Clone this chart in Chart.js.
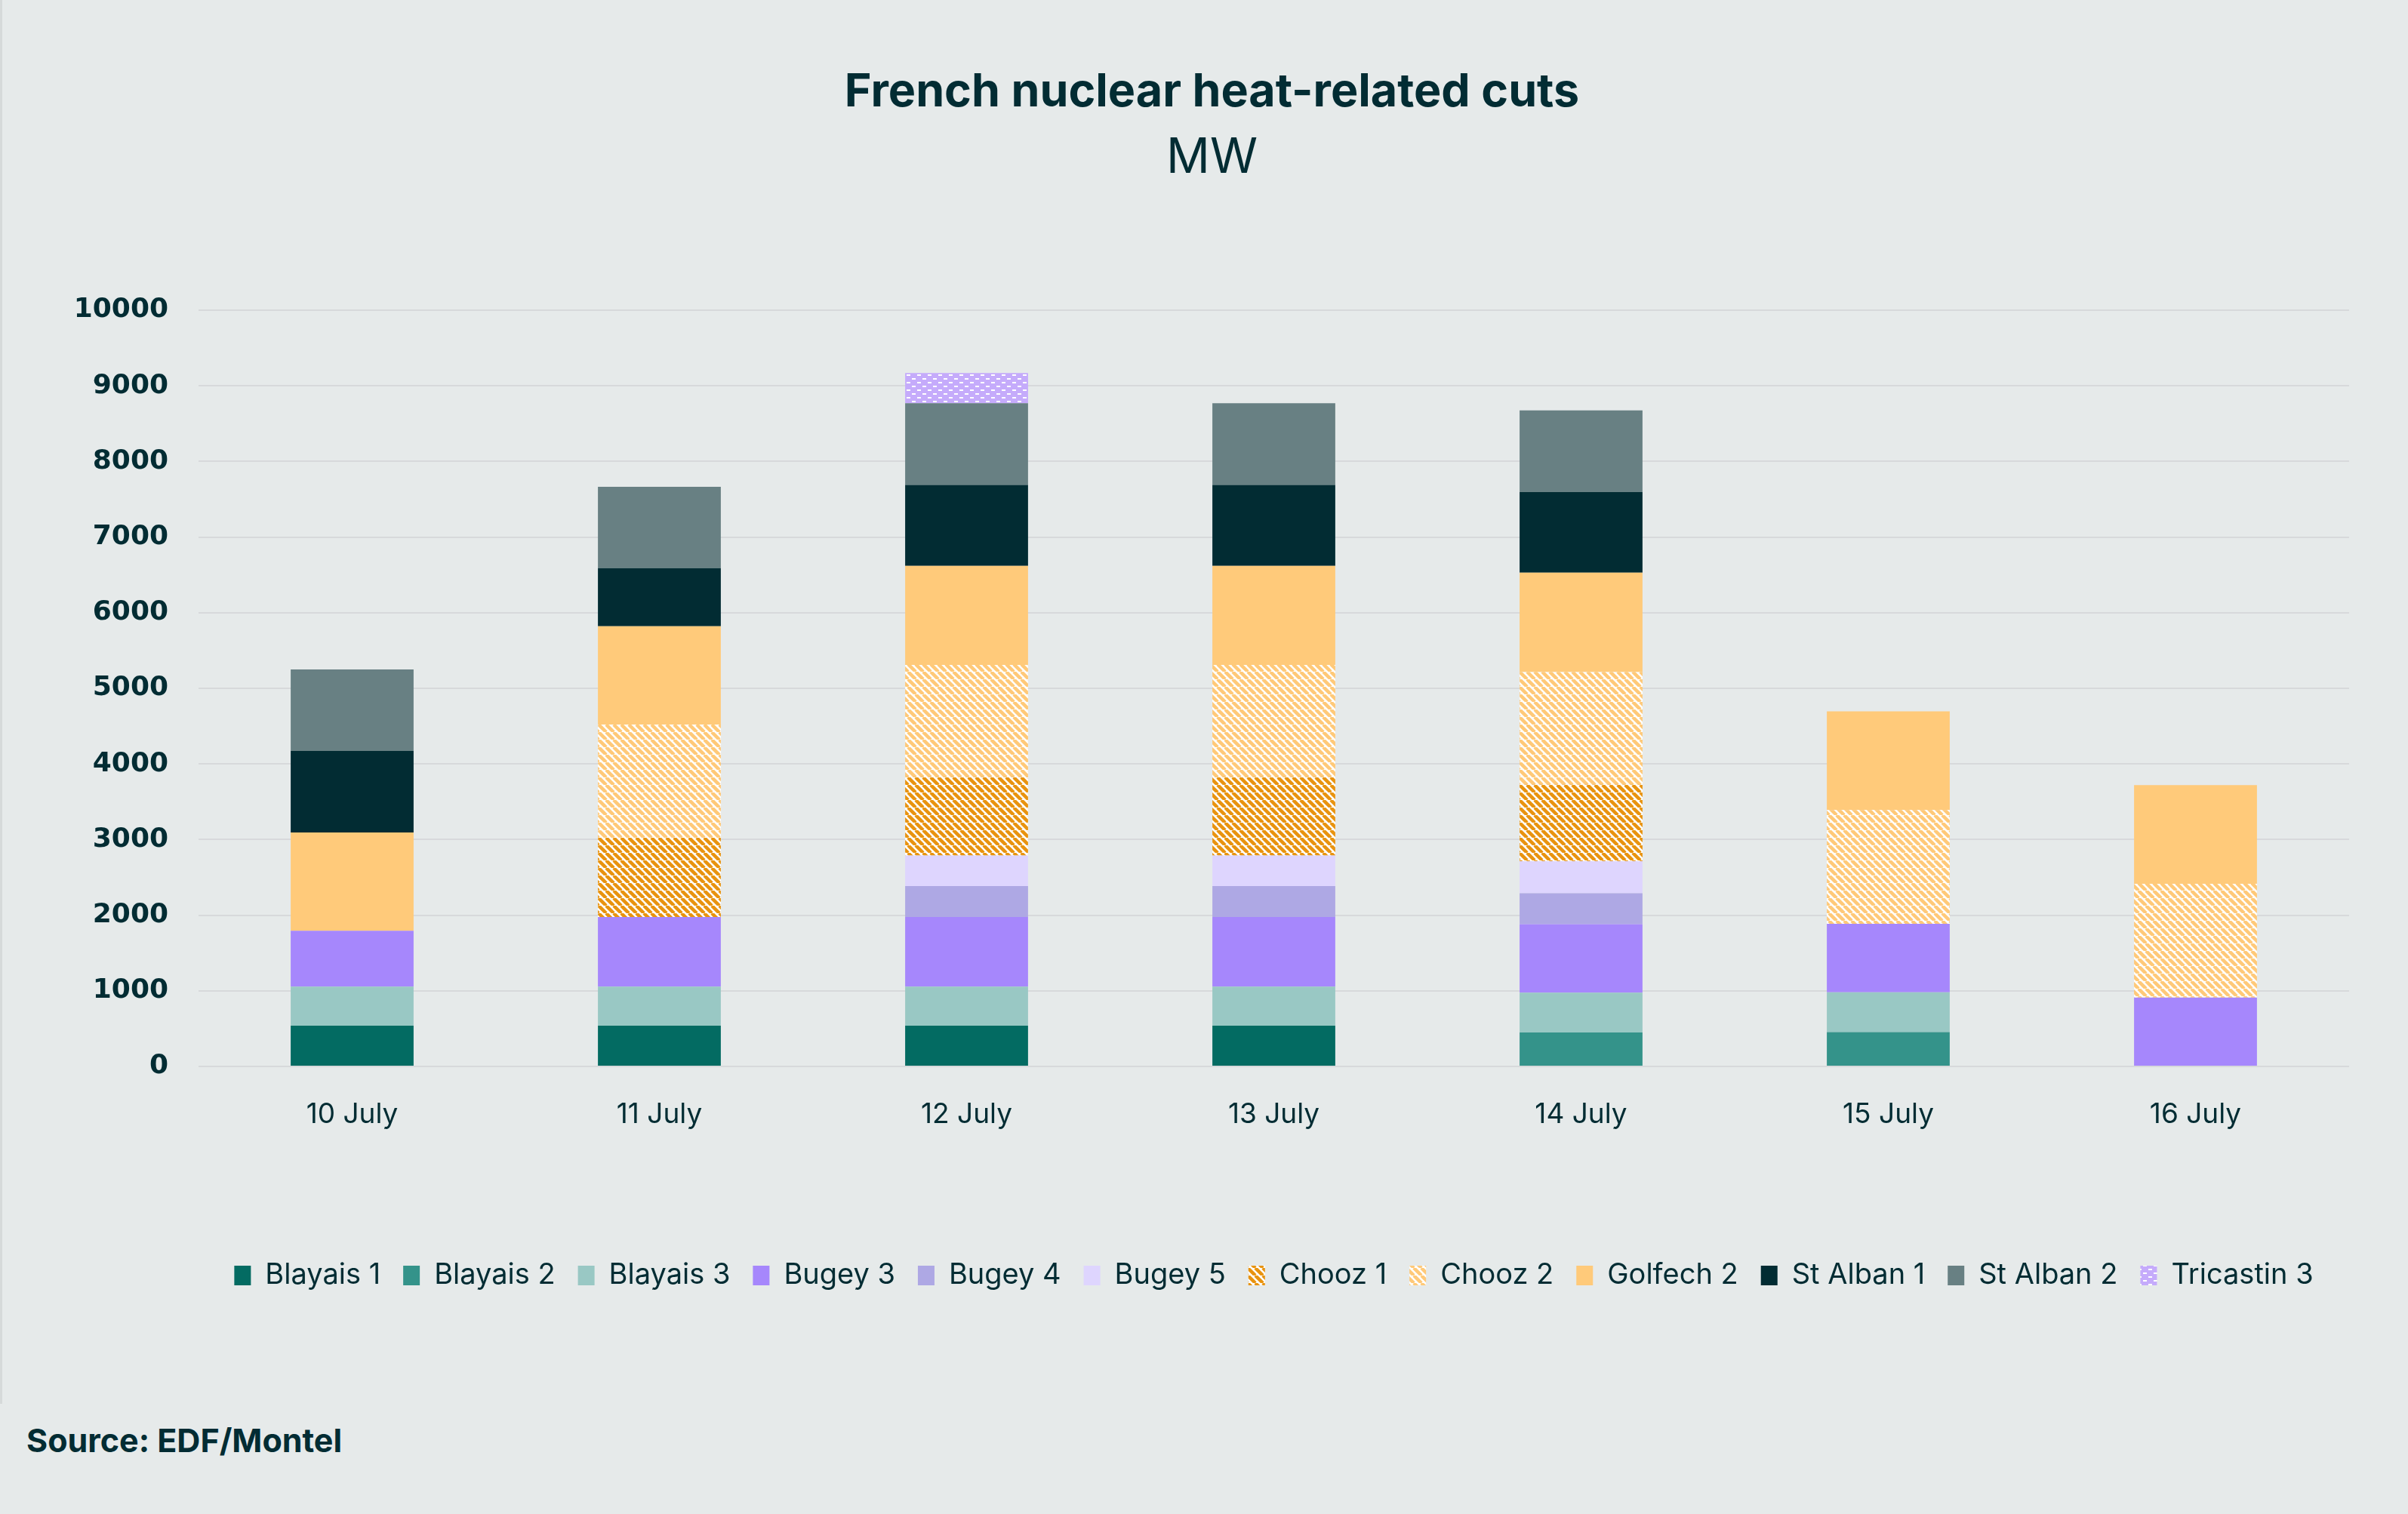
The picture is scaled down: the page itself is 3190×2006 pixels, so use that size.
<!DOCTYPE html>
<html>
<head>
<meta charset="utf-8">
<script src="https://cdn.jsdelivr.net/npm/chart.js@4.4.1/dist/chart.umd.min.js"></script>
<style>
  html, body { margin: 0; padding: 0; background: #e6eaea; }
  body { width: 3190px; height: 2006px; position: relative; overflow: hidden; }
  #frame { position: absolute; left: 0; top: 0; width: 3190px; height: 1860px; box-sizing: border-box; border-left: 3px solid #d6dada; }
  #source { position: absolute; left: 35px; top: 1882px; font-family: Inter, sans-serif; font-weight: 700; font-size: 43px; color: #022c33; }
</style>
</head>
<body>
<div id="frame"><canvas id="cuts"></canvas></div>
<div id="source">Source: EDF/Montel</div>
<script>
// days on the x axis
const days = ['10 July', '11 July', '12 July', '13 July', '14 July', '15 July', '16 July'];

// MW cut per reactor
const blayais1 = [540, 540, 540, 540, 0, 0, 0];
const blayais2 = [0, 0, 0, 0, 450, 455, 0];
const blayais3 = [515, 515, 515, 515, 525, 525, 0];
const bugey3 = [740, 920, 920, 920, 905, 905, 910];
const bugey4 = [0, 0, 410, 410, 410, 0, 0];
const bugey5 = [0, 0, 405, 405, 425, 0, 0];
const chooz1 = [0, 1050, 1035, 1035, 1010, 0, 0];
const chooz2 = [0, 1495, 1485, 1485, 1490, 1505, 1505];
const golfech2 = [1300, 1300, 1310, 1310, 1315, 1305, 1305];
const stAlban1 = [1080, 770, 1070, 1070, 1065, 0, 0];
const stAlban2 = [1075, 1075, 1080, 1080, 1080, 0, 0];
const tricastin3 = [0, 0, 400, 0, 0, 0, 0];

const yMax = 10000;
const yStep = 1000;

const ink = '#022c33';

// striped fill for the Chooz units
function stripes(color) {
    const c = document.createElement('canvas');
    c.width = 10;
    c.height = 10;
    const g = c.getContext('2d');
    g.fillStyle = '#ffffff';
    g.fillRect(0, 0, 10, 10);
    g.strokeStyle = color;
    g.lineWidth = 4.5;
    g.beginPath();
    for (let o = -10; o <= 10; o += 10) {
        g.moveTo(o, 0);
        g.lineTo(o + 10, 10);
    }
    g.stroke();
    return g.createPattern(c, 'repeat');
}

// dotted fill for Tricastin
function dashes(color) {
    const c = document.createElement('canvas');
    c.width = 14;
    c.height = 10;
    const g = c.getContext('2d');
    g.fillStyle = color;
    g.fillRect(0, 0, 14, 10);
    g.fillStyle = '#ffffff';
    g.fillRect(1, 1, 5, 2);
    g.fillRect(8, 6, 5, 2);
    return g.createPattern(c, 'repeat');
}

const series = [
    ['Blayais 1', blayais1, '#036b62'],
    ['Blayais 2', blayais2, '#34938a'],
    ['Blayais 3', blayais3, '#99c8c4'],
    ['Bugey 3', bugey3, '#a687fc'],
    ['Bugey 4', bugey4, '#aea8e4'],
    ['Bugey 5', bugey5, '#ded5fe'],
    ['Chooz 1', chooz1, stripes('#e8930f')],
    ['Chooz 2', chooz2, stripes('#ffc978')],
    ['Golfech 2', golfech2, '#ffca7a'],
    ['St Alban 1', stAlban1, '#022c33'],
    ['St Alban 2', stAlban2, '#688083'],
    ['Tricastin 3', tricastin3, dashes('#c5abfb')]
];

const canvas = document.getElementById('cuts');
canvas.width = 3190;
canvas.height = 1860;

new Chart(canvas, {
    type: 'bar',
    data: {
        labels: days,
        datasets: series.map(s => ({
            label: s[0],
            data: s[1],
            backgroundColor: s[2],
            borderWidth: 0,
            categoryPercentage: 1,
            barPercentage: 0.4
        }))
    },
    options: {
        responsive: false,
        animation: false,
        layout: { padding: { top: 0, left: 96, right: 81, bottom: 141 } },
        plugins: {
            title: {
                display: true,
                text: 'French nuclear heat-related cuts',
                color: ink,
                font: { family: 'Inter', weight: '700', size: 61 },
                padding: { top: 86, bottom: 0 }
            },
            subtitle: {
                display: true,
                text: 'MW',
                color: ink,
                font: { family: 'Inter', weight: '400', size: 64 },
                padding: { top: 12, bottom: 163 }
            },
            legend: {
                position: 'bottom',
                fullSize: false,
                labels: {
                    color: ink,
                    font: { family: 'Inter', size: 38 },
                    boxWidth: 22,
                    boxHeight: 26,
                    padding: 30
                }
            },
            tooltip: { enabled: false }
        },
        scales: {
            x: {
                stacked: true,
                grid: { display: false, drawTicks: false },
                border: { display: false },
                ticks: { color: ink, font: { family: 'Inter', size: 37 }, padding: 42 },
                afterFit: s => { s.height = 228; }
            },
            y: {
                stacked: true,
                min: 0,
                max: yMax,
                grid: { color: '#d7d9db', lineWidth: 2, drawTicks: false },
                border: { display: false },
                ticks: {
                    stepSize: yStep,
                    color: ink,
                    padding: 40,
                    font: { family: 'DejaVu Sans', weight: '700', size: 36 },
                    callback: v => String(v)
                },
                afterFit: s => { s.width = 164; }
            }
        }
    }
});
</script>
</body>
</html>
